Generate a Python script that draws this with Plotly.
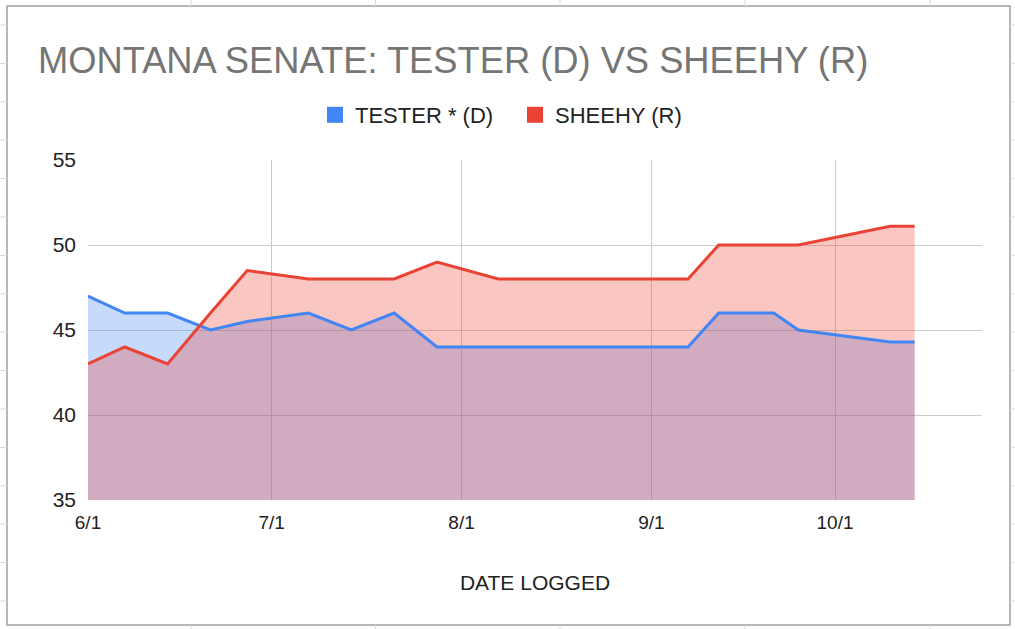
import plotly.graph_objects as go

# poll dates and values
dates = [
    "2024-06-01", "2024-06-07", "2024-06-14", "2024-06-21", "2024-06-27",
    "2024-07-07", "2024-07-14", "2024-07-21", "2024-07-28", "2024-08-07",
    "2024-09-07", "2024-09-12", "2024-09-21", "2024-09-25", "2024-10-10",
    "2024-10-14",
]
tester = [47, 46, 46, 45, 45.5, 46, 45, 46, 44, 44, 44, 46, 46, 45, 44.3, 44.3]
sheehy = [43, 44, 43, 46, 48.5, 48, 48, 48, 49, 48, 48, 50, 50, 50, 51.1, 51.1]

tick_dates = ["2024-06-01", "2024-07-01", "2024-08-01", "2024-09-01", "2024-10-01"]
tick_labels = ["6/1", "7/1", "8/1", "9/1", "10/1"]
y_ticks = [35, 40, 45, 50, 55]

BLUE = "#4285F4"
RED = "#EA4335"
FONT = "Liberation Sans, Arial, sans-serif"

W, H = 1015, 629
L, R, T, B = 88, 33, 160, 129


def px(x, y):
    """Pixel position on the page -> paper coordinates."""
    return (x - L) / (W - L - R), (H - B - y) / (H - T - B)


fig = go.Figure()

# area fills (blue below, red on top)
fig.add_trace(go.Scatter(x=dates, y=tester, mode="none", fill="tozeroy",
                         fillcolor="rgba(66,133,244,0.3)", showlegend=False, hoverinfo="skip"))
fig.add_trace(go.Scatter(x=dates, y=sheehy, mode="none", fill="tozeroy",
                         fillcolor="rgba(234,67,53,0.3)", showlegend=False, hoverinfo="skip"))
# lines
fig.add_trace(go.Scatter(x=dates, y=tester, mode="lines", line=dict(color=BLUE, width=3),
                         showlegend=False, name="TESTER * (D)"))
fig.add_trace(go.Scatter(x=dates, y=sheehy, mode="lines", line=dict(color=RED, width=3),
                         showlegend=False, name="SHEEHY (R)"))
# legend swatches
for name, color in (("TESTER * (D)", BLUE), ("SHEEHY (R)", RED)):
    fig.add_trace(go.Scatter(x=[None], y=[None], mode="markers", name=name,
                             marker=dict(symbol="square", size=16, color=color)))

# spreadsheet frame around the chart
shapes = []
x0, y0 = px(7, 6)
x1, y1 = px(1010, 625)
shapes.append(dict(type="rect", xref="paper", yref="paper", x0=x0, y0=y0, x1=x1, y1=y1,
                   line=dict(color="#a0a0a0", width=1.5), layer="below"))
for cx in (191, 375.5, 560, 745, 930):
    a, top = px(cx, 0)
    _, bot = px(cx, 6)
    shapes.append(dict(type="line", xref="paper", yref="paper", x0=a, x1=a, y0=top, y1=bot,
                       line=dict(color="#d9d9d9", width=1)))
    _, top2 = px(cx, 625)
    _, bot2 = px(cx, 629)
    shapes.append(dict(type="line", xref="paper", yref="paper", x0=a, x1=a, y0=top2, y1=bot2,
                       line=dict(color="#d9d9d9", width=1)))
ry = 25.0
while ry < 629:
    la, yy = px(0, ry)
    lb, _ = px(7, ry)
    ra, _ = px(1010, ry)
    rb, _ = px(1015, ry)
    shapes.append(dict(type="line", xref="paper", yref="paper", x0=la, x1=lb, y0=yy, y1=yy,
                       line=dict(color="#d9d9d9", width=1)))
    shapes.append(dict(type="line", xref="paper", yref="paper", x0=ra, x1=rb, y0=yy, y1=yy,
                       line=dict(color="#d9d9d9", width=1)))
    ry += 38.4

fig.update_layout(
    width=W,
    height=H,
    margin=dict(l=L, r=R, t=T, b=B),
    paper_bgcolor="white",
    plot_bgcolor="white",
    font=dict(family=FONT, size=19, color="#222222"),
    title=dict(
        text="MONTANA SENATE: TESTER (D) VS SHEEHY (R)",
        x=38 / W, xanchor="left", xref="container",
        y=1 - 60 / H, yanchor="middle", yref="container",
        font=dict(family=FONT, size=36.3, color="#757575"),
    ),
    legend=dict(
        orientation="h",
        x=315 / W, xanchor="left", xref="container",
        y=1 - 115 / H, yanchor="middle", yref="container",
        font=dict(family=FONT, size=22, color="#222222"),
        itemsizing="trace",
        entrywidth=155,
        bgcolor="rgba(0,0,0,0)",
    ),
    xaxis=dict(
        type="date",
        range=["2024-06-01", "2024-10-25"],
        tickvals=tick_dates,
        ticktext=tick_labels,
        showgrid=True,
        gridcolor="#cccccc",
        gridwidth=1,
        zeroline=False,
        showline=False,
        ticks="",
        ticklabelstandoff=9,
        tickfont=dict(family=FONT, size=19, color="#222222"),
        title=dict(text="DATE LOGGED", standoff=43, font=dict(family=FONT, size=21, color="#222222")),
    ),
    yaxis=dict(
        range=[35, 55],
        tickvals=y_ticks,
        showgrid=True,
        gridcolor="#cccccc",
        gridwidth=1,
        zeroline=False,
        showline=False,
        ticks="",
        ticklabelstandoff=11,
        tickfont=dict(family=FONT, size=21, color="#222222"),
    ),
    shapes=shapes,
)

fig.write_html(
    "out.html",
    config={"displayModeBar": False},
    post_script="document.body.style.margin='0';document.body.style.overflow='hidden';",
)
